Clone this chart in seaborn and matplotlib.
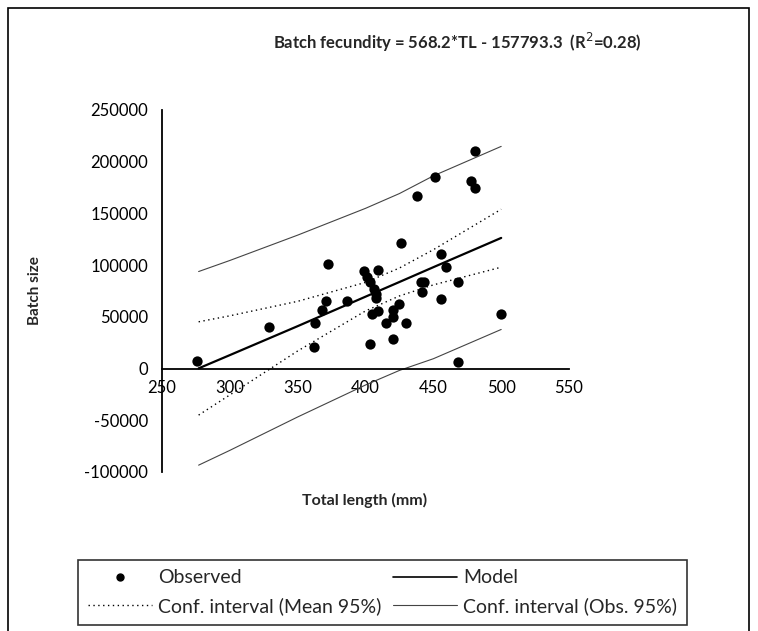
# IMPORTS
import pandas as pd
import seaborn as sns
import matplotlib.pyplot as plt
from matplotlib.lines import Line2D
from matplotlib.patches import Rectangle

# DATA
total_length = [276, 329, 362, 363, 368, 371, 372, 386, 399, 401, 403, 403,
                405, 406, 408, 408, 409, 409, 415, 420, 420, 420, 425, 426,
                430, 438, 441, 442, 443, 451, 456, 456, 459, 468, 468, 478,
                481, 481, 500]
batch_size = [7700, 39800, 20600, 44500, 56300, 65800, 101200, 65800, 94400,
              88500, 84100, 23600, 53100, 77300, 72300, 67900, 95300, 55200,
              44300, 56700, 50200, 28900, 62900, 121600, 43700, 166700, 84100,
              73800, 84100, 185300, 110700, 67000, 98300, 84100, 6500, 181500,
              210100, 174700, 53100]

curve_x = [277, 300, 350, 400, 425, 450, 500]
model_y = [200, 13000, 41000, 69500, 83700, 98000, 126300]
mean_hi = [45200, 51000, 65000, 83300, 97200, 114900, 154000]
mean_lo = [-45000, -25500, 17000, 55700, 70200, 80900, 98000]
obs_hi = [93800, 104500, 129000, 154900, 169200, 186300, 214800]
obs_lo = [-93400, -79100, -46800, -15900, -1800, 9500, 37800]

x_ticks = [250, 300, 350, 400, 450, 500, 550]
y_ticks = [-100000, -50000, 0, 50000, 100000, 150000, 200000, 250000]

points = pd.DataFrame({'tl': total_length, 'batch': batch_size})
curves = pd.DataFrame({'tl': curve_x, 'model': model_y, 'mean_hi': mean_hi,
                       'mean_lo': mean_lo, 'obs_hi': obs_hi, 'obs_lo': obs_lo})

# BUILD GRAPH
sns.set_style('white')
plt.rcParams['font.family'] = ['Lato', 'DejaVu Sans']

fig = plt.figure(figsize=(7.58, 6.31), dpi=100)
ax = fig.add_axes([0.2137, 0.252, 0.537, 0.5737])

# outer chart frame
fig.patches.append(Rectangle((0.0106, -0.02), 0.978, 1.007, transform=fig.transFigure,
                             fill=False, edgecolor='black', linewidth=1.2))

dotted = (0, (1, 2.5))
for col in ['obs_hi', 'obs_lo']:
    sns.lineplot(data=curves, x='tl', y=col, ax=ax, color='#444444', linewidth=0.8)
for col in ['mean_hi', 'mean_lo']:
    sns.lineplot(data=curves, x='tl', y=col, ax=ax, color='black', linewidth=1.0,
                 linestyle=dotted)
sns.lineplot(data=curves, x='tl', y='model', ax=ax, color='black', linewidth=1.6)
sns.scatterplot(data=points, x='tl', y='batch', ax=ax, color='black', s=55,
                edgecolor='black', linewidth=0, zorder=5)

ax.set_xlim(250, 550)
ax.set_ylim(-100000, 250000)
ax.set_xticks(x_ticks)
ax.set_yticks(y_ticks)
ax.set_yticklabels([str(v) for v in y_ticks])

ax.spines['top'].set_visible(False)
ax.spines['right'].set_visible(False)
ax.spines['bottom'].set_position(('data', 0))
for side in ['left', 'bottom']:
    ax.spines[side].set_linewidth(1.3)
    ax.spines[side].set_color('black')
ax.tick_params(axis='both', direction='inout', length=8, width=1.2, color='black',
               labelsize=12, labelcolor='black')
ax.tick_params(axis='y', pad=6)
ax.tick_params(axis='x', pad=4)
ax.set_xlabel('')
ax.set_ylabel('')

fig.text(0.604, 0.932, 'Batch fecundity = 568.2*TL - 157793.3  (R$^2$=0.28)',
         ha='center', va='center', fontsize=12, fontweight='bold')
fig.text(0.046, 0.54, 'Batch size', rotation=90, ha='center', va='center',
         fontsize=11, fontweight='bold')
fig.text(0.4815, 0.207, 'Total length (mm)', ha='center', va='center',
         fontsize=11.5, fontweight='bold')

handles = [
    Line2D([], [], color='black', marker='o', linestyle='none', markersize=5),
    Line2D([], [], color='black', linewidth=1.0, linestyle=dotted),
    Line2D([], [], color='black', linewidth=1.2),
    Line2D([], [], color='#444444', linewidth=0.8),
]
labels = ['Observed', 'Conf. interval (Mean 95%)', 'Model', 'Conf. interval (Obs. 95%)']
leg = fig.legend(handles, labels, loc='lower left', ncol=2,
                 bbox_to_anchor=(0.103, 0.01), bbox_transform=fig.transFigure,
                 frameon=True, fancybox=False, edgecolor='black', fontsize=14,
                 handlelength=3.3, handletextpad=0.3, borderpad=0.5,
                 labelspacing=0.55, columnspacing=0.6, borderaxespad=0)
leg.get_frame().set_linewidth(1.2)

fig.savefig('out.png', dpi=100)
